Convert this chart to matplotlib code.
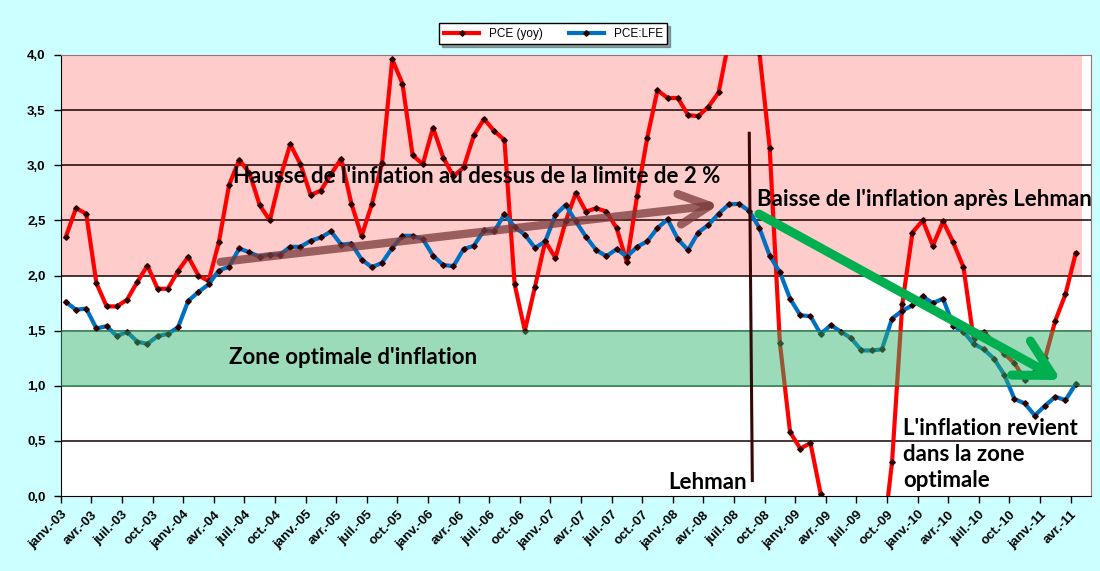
import matplotlib
matplotlib.use('Agg')
import matplotlib.pyplot as plt
import matplotlib.transforms as mtransforms
import numpy as np
from matplotlib.patches import FancyArrowPatch

# monthly data, janv-03 .. avr-11
pce_yoy = [
    2.35, 2.61, 2.56, 1.93, 1.72, 1.72, 1.78, 1.94, 2.09, 1.88,
    1.88, 2.04, 2.17, 2.00, 1.95, 2.30, 2.82, 3.05, 2.93, 2.64,
    2.50, 2.88, 3.19, 3.01, 2.73, 2.77, 2.92, 3.06, 2.65, 2.36,
    2.645, 3.02, 3.96, 3.74, 3.09, 3.01, 3.34, 3.07, 2.90, 2.98,
    3.27, 3.42, 3.31, 3.23, 1.92, 1.50, 1.90, 2.31, 2.16, 2.49,
    2.75, 2.58, 2.61, 2.58, 2.43, 2.12, 2.72, 3.25, 3.68, 3.61,
    3.61, 3.455, 3.445, 3.53, 3.66, 4.13, 4.50, 4.30, 4.02, 3.16,
    1.39, 0.58, 0.43, 0.48, 0.02, -0.50, -0.60, -0.80, -0.60, -0.50,
    -0.49, 0.31, 1.74, 2.39, 2.50, 2.27, 2.49, 2.30, 2.075, 1.42,
    1.49, 1.39, 1.29, 1.205, 1.055, 1.13, 1.25, 1.59, 1.83, 2.20,
]
pce_lfe = [
    1.76, 1.69, 1.70, 1.52, 1.54, 1.45, 1.49, 1.40, 1.38, 1.45,
    1.47, 1.53, 1.77, 1.85, 1.92, 2.045, 2.08, 2.245, 2.21, 2.17,
    2.19, 2.19, 2.26, 2.26, 2.315, 2.345, 2.40, 2.28, 2.29, 2.145,
    2.075, 2.115, 2.25, 2.36, 2.36, 2.33, 2.18, 2.095, 2.085, 2.24,
    2.27, 2.41, 2.40, 2.555, 2.44, 2.37, 2.25, 2.31, 2.55, 2.64,
    2.49, 2.35, 2.23, 2.175, 2.24, 2.17, 2.26, 2.31, 2.43, 2.51,
    2.33, 2.23, 2.39, 2.46, 2.56, 2.645, 2.65, 2.585, 2.43, 2.18,
    2.03, 1.79, 1.64, 1.63, 1.47, 1.55, 1.49, 1.43, 1.32, 1.32,
    1.33, 1.61, 1.68, 1.73, 1.81, 1.75, 1.79, 1.545, 1.49, 1.38,
    1.33, 1.245, 1.10, 0.88, 0.84, 0.73, 0.82, 0.90, 0.87, 1.015,
]
month_names = ['janv.', 'avr.', 'juil.', 'oct.']
years = ['03', '04', '05', '06', '07', '08', '09', '10', '11']

x = np.arange(len(pce_yoy))
tick_labels = [f'{m}-{y}' for y in years for m in month_names][:34]

txt_font = ['Lato', 'DejaVu Sans']
ax_font = ['Liberation Sans', 'DejaVu Sans']

fig = plt.figure(figsize=(11, 5.71), dpi=100, facecolor='#CCFFFF')
ax = fig.add_axes([0.0552, 0.1313, 0.9366, 0.7724])
ax.set_facecolor('white')

# zones
ax.axhspan(2.0, 4.0, xmin=0, xmax=0.991, color='#FFCCCC', lw=0, zorder=0)
ax.axhspan(1.0, 1.5, color='#2EB36B', alpha=0.47, lw=0, zorder=4)
for yv in np.arange(0.5, 4.0, 0.5):
    c = '#1E5B2E' if yv in (1.0, 1.5) else '#1A0000'
    ax.axhline(yv, color=c, lw=1.1, zorder=1)

# series
ax.plot(x, pce_yoy, color='#FF0000', lw=3, marker='D', ms=2.8, mfc='#300000',
        mec='#300000', zorder=3, label='PCE (yoy)')
ax.plot(x, pce_lfe, color='#0070C0', lw=3, marker='D', ms=2.8, mfc='#300000',
        mec='#300000', zorder=3, label='PCE:LFE')

ax.set_xlim(-0.5, 100.5)
ax.set_ylim(0, 4.0)
ax.set_xticks(np.arange(0, 100, 3) - 0.5)
ax.set_xticklabels(tick_labels, rotation=45, ha='right', rotation_mode='anchor',
                   fontsize=9.5, fontweight='bold', family=ax_font)
shift = mtransforms.ScaledTranslation(9 / 100, 0, fig.dpi_scale_trans)
for lab in ax.get_xticklabels():
    lab.set_transform(lab.get_transform() + shift)
ax.set_yticks(np.arange(0, 4.01, 0.5))
ax.set_yticklabels([f'{v:.1f}'.replace('.', ',') for v in np.arange(0, 4.01, 0.5)],
                   fontsize=9.5, fontweight='bold', family=ax_font)
ax.tick_params(axis='x', length=5, width=1, pad=4)
ax.tick_params(axis='y', length=5, width=1, pad=6)
ax.spines['top'].set_color('#A07070')
ax.spines['right'].set_color('#A07070')

# annotations
ax.add_patch(FancyArrowPatch((14.9, 2.12), (64.3, 2.645),
                             arrowstyle='->,head_length=1.1,head_width=0.55',
                             mutation_scale=20, color='#7A3A3A', alpha=0.75,
                             lw=6, zorder=5))
ax.add_patch(FancyArrowPatch((67.7, 2.57), (97.8, 1.04),
                             arrowstyle='->,head_length=1.3,head_width=0.7',
                             mutation_scale=20, color='#00B050',
                             lw=6.5, zorder=6))
ax.plot([67.0, 67.3], [3.29, 0.14], color='#3A0505', lw=2.2, zorder=6)

tkw = dict(fontsize=16, fontweight='bold', family=txt_font, color='black', zorder=7)
ax.text(16.4, 2.90, "Hausse de l'inflation au dessus de la limite de 2 %", va='center', **tkw)
ax.text(67.8, 2.69, "Baisse de l'inflation après Lehman", va='center', **tkw)
ax.text(16.0, 1.26, "Zone optimale d'inflation", va='center', **tkw)
ax.text(66.8, 0.12, "Lehman", va='center', ha='right', **tkw)
ax.text(82.1, 0.38, "L'inflation revient\ndans la zone\noptimale", va='center',
        linespacing=1.3, **tkw)

leg = fig.legend(loc='center', bbox_to_anchor=(0.503, 0.941), ncol=2,
                 frameon=True, fancybox=False, shadow=True, edgecolor='black',
                 prop={'family': ax_font, 'size': 8.5}, handlelength=3,
                 columnspacing=2.2, borderpad=0.4)
leg.get_frame().set_linewidth(1)

fig.savefig('out.png', dpi=100, facecolor=fig.get_facecolor())
